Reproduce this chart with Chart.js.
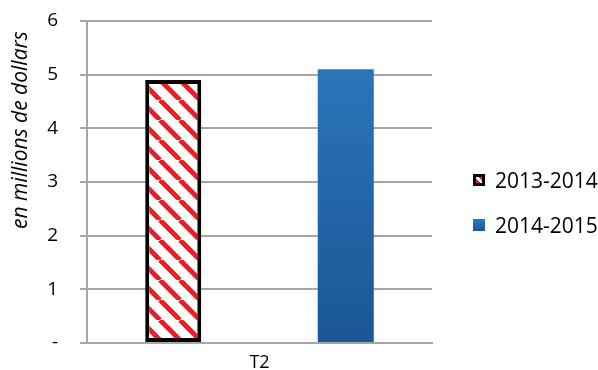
<!DOCTYPE html>
<html>
<head>
<meta charset="utf-8">
<script src="https://cdn.jsdelivr.net/npm/chart.js@4/dist/chart.umd.min.js"></script>
<style>
  body { margin: 0; background: #fff; }
  .wrap { position: relative; width: 598px; height: 370px; }
  #legend { position: absolute; left: 473px; top: 167px; font-family: "Open Sans", sans-serif; font-size: 21px; color: #000; }
  .item { display: flex; align-items: center; height: 26px; margin-bottom: 19px; }
  .sw { width: 12px; height: 12px; margin-right: 10px; box-sizing: border-box; }
</style>
</head>
<body>
<div class="wrap">
  <canvas id="chart" width="598" height="370"></canvas>
  <div id="legend"></div>
</div>
<script>
// data
const categories = ["T2"];
const seriesNames = ["2013-2014", "2014-2015"];
const values1314 = [4.9];
const values1415 = [5.1];
const yTitle = "en millions de dollars";

// red / white diagonal stripes
function stripes() {
  const c = document.createElement("canvas");
  c.width = 20; c.height = 20;
  const g = c.getContext("2d");
  g.fillStyle = "#fff";
  g.fillRect(0, 0, 20, 20);
  g.strokeStyle = "#ee1c25";
  g.lineWidth = 5;
  for (let k = -1; k <= 1; k++) {
    g.beginPath();
    g.moveTo(k * 20, 0);
    g.lineTo(k * 20 + 20, 20);
    g.stroke();
  }
  return g.createPattern(c, "repeat");
}

function blueGrad(ctx) {
  const area = ctx.chart.chartArea;
  if (!area) return "#2166ad";
  const gr = ctx.chart.ctx.createLinearGradient(0, area.top, 0, area.bottom);
  gr.addColorStop(0, "#2e7abf");
  gr.addColorStop(1, "#1b5695");
  return gr;
}

const titlePlugin = {
  id: "ytitle",
  afterDraw(chart) {
    const g = chart.ctx;
    g.save();
    g.translate(21, 130);
    g.rotate(-Math.PI / 2);
    g.font = "italic 21px 'Open Sans'";
    g.fillStyle = "#000";
    g.textAlign = "center";
    g.textBaseline = "middle";
    g.fillText(yTitle, 0, 0);
    g.restore();
  }
};

const stripePattern = stripes();

new Chart(document.getElementById("chart"), {
  type: "bar",
  data: {
    labels: categories,
    datasets: [{
      label: seriesNames[0],
      data: values1314,
      backgroundColor: stripePattern,
      borderColor: "#000",
      borderWidth: 4,
      borderSkipped: false
    }, {
      label: seriesNames[1],
      data: values1415,
      backgroundColor: blueGrad,
      borderWidth: 0
    }]
  },
  options: {
    responsive: false,
    animation: false,
    layout: { padding: { left: 0, right: 166, top: 21, bottom: 0 } },
    datasets: { bar: { categoryPercentage: 1.0, barPercentage: 0.325 } },
    plugins: { legend: { display: false }, tooltip: { enabled: false } },
    scales: {
      x: {
        grid: { display: false, drawTicks: false },
        border: { color: "#a6a6a6", width: 2 },
        ticks: { color: "#000", font: { family: "Open Sans", size: 18 }, padding: 9 },
        afterFit(s) { s.height = 27; }
      },
      y: {
        min: 0, max: 6,
        grid: { color: "#a6a6a6", lineWidth: 2, tickLength: 7 },
        border: { color: "#a6a6a6", width: 2 },
        ticks: {
          stepSize: 1, color: "#000", padding: 22,
          font: { family: "Open Sans", size: 19 },
          callback: v => v === 0 ? "-" : String(v)
        },
        afterFit(s) {
          s.width = 87;
          s.paddingTop = 0;
          s.paddingBottom = 0;
        }
      }
    }
  },
  plugins: [titlePlugin]
});

// legend built from the series names
const legend = document.getElementById("legend");
seriesNames.forEach((name, i) => {
  const row = document.createElement("div");
  row.className = "item";
  const sw = document.createElement("span");
  sw.className = "sw";
  if (i === 0) {
    sw.style.border = "3px solid #000";
    sw.style.background = "repeating-linear-gradient(45deg, #ee1c25 0 3px, #fff 3px 6px)";
  } else {
    sw.style.background = "linear-gradient(#2e7abf, #1b5695)";
  }
  const txt = document.createElement("span");
  txt.textContent = name;
  row.appendChild(sw);
  row.appendChild(txt);
  legend.appendChild(row);
});
</script>
</body>
</html>
